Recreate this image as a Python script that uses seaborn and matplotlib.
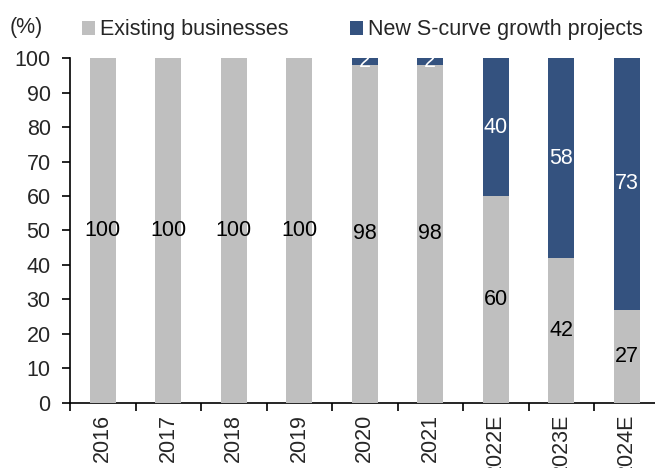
import matplotlib
matplotlib.use("Agg")
import matplotlib.pyplot as plt
import seaborn as sns
import pandas as pd
import numpy as np

years = ["2016", "2017", "2018", "2019", "2020", "2021", "2022E", "2023E", "2024E"]
existing = [100, 100, 100, 100, 98, 98, 60, 42, 27]
new_proj = [0, 0, 0, 0, 2, 2, 40, 58, 73]

grey = "#BFBFBF"
blue = "#34527F"
FS = 15.5

sns.set_style("ticks")
plt.rcParams["font.family"] = ["Liberation Sans", "DejaVu Sans"]

df = pd.DataFrame({"year": years, "existing": existing, "new": new_proj})
df["total"] = df["existing"] + df["new"]

fig = plt.figure(figsize=(6.55, 4.68), dpi=100)
ax = fig.add_axes([0.107, 0.139, 0.9, 0.737])

sns.barplot(data=df, x="year", y="total", color=blue, width=0.40, ax=ax,
            saturation=1, label="New S-curve growth projects", zorder=2, linewidth=0)
sns.barplot(data=df, x="year", y="existing", color=grey, width=0.40, ax=ax,
            saturation=1, label="Existing businesses", zorder=3, linewidth=0)
if ax.get_legend() is not None:
    ax.get_legend().remove()

for i, (e, n) in enumerate(zip(existing, new_proj)):
    ax.text(i, e / 2, f"{e}", ha="center", va="center", fontsize=FS, color="black", zorder=5)
    if n > 0:
        ax.text(i, e + n / 2, f"{n}", ha="center", va="center", fontsize=FS, color="white", zorder=5)

ax.set_ylim(0, 100)
ax.set_xlim(-0.5, len(years) - 0.5)
ax.set_yticks(np.arange(0, 101, 10))
ax.set_xlabel("")
ax.set_ylabel("")
ax.set_xticks(range(len(years)))
ax.set_xticklabels(years, rotation=90, fontsize=FS)
ax.tick_params(axis="x", which="major", length=0, pad=8)
ax.set_xticks(np.arange(-0.5, len(years), 1), minor=True)
ax.tick_params(axis="x", which="minor", length=6, width=1.2, color="black", direction="out")
ax.tick_params(axis="y", length=6, width=1.2, color="black", labelsize=FS, direction="out", pad=8)
for s in ["top", "right"]:
    ax.spines[s].set_visible(False)
for s in ["left", "bottom"]:
    ax.spines[s].set_color("black")
    ax.spines[s].set_linewidth(1.2)

handles, labels = ax.get_legend_handles_labels()
order = [labels.index("Existing businesses"), labels.index("New S-curve growth projects")]
fig.legend([handles[k] for k in order], [labels[k] for k in order],
           loc="center left", bbox_to_anchor=(0.125, 1 - 30 / 468), ncol=2, frameon=False,
           fontsize=FS, handlelength=0.6, handleheight=0.6, handletextpad=0.25,
           columnspacing=2.85, borderaxespad=0, borderpad=0)

fig.text(0.015, 1 - 28 / 468, "(%)", fontsize=FS, ha="left", va="center")

fig.savefig("out.png", dpi=100)
